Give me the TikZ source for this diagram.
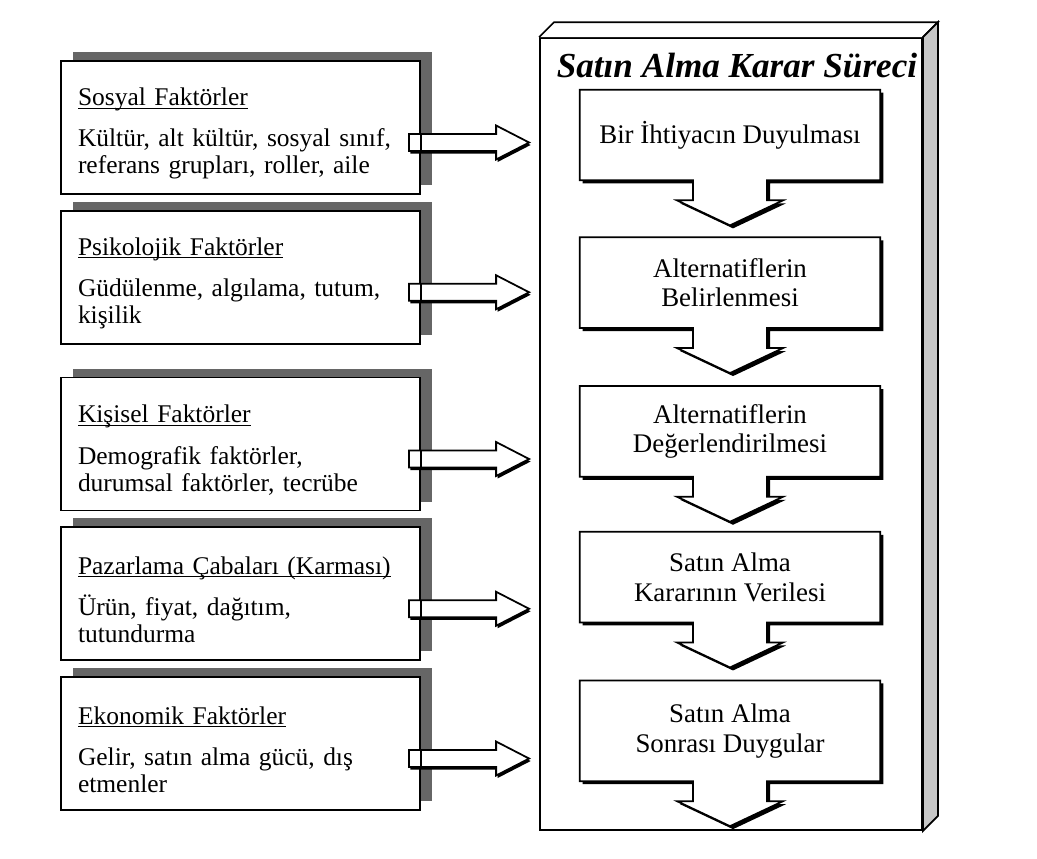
\documentclass[tikz,border=0pt]{standalone}
\usepackage{fontspec}
\setmainfont{Liberation Serif}
\usetikzlibrary{positioning,calc,shadows,backgrounds}
\newcommand{\fhead}[1]{\rule{0pt}{17pt}\underline{\raisebox{0pt}[\height][0pt]{#1}}}

\begin{document}
\begin{tikzpicture}[
    factor/.style={rectangle, draw, line width=1pt, fill=white, minimum width=7.18cm, minimum height=2.66cm, text width=6.5cm, align=left, font=\fontsize{14.5}{15.5}\selectfont, drop shadow={shadow xshift=0.24cm, shadow yshift=0.18cm, fill=black!60, opacity=1}},
    process/.style={rectangle, minimum width=6cm, minimum height=1.8cm, align=center, font=\fontsize{15.3}{17}\selectfont},
    flowshape/.style={draw, line width=1pt, fill=white, drop shadow={shadow xshift=0.06cm, shadow yshift=-0.06cm, fill=black, opacity=1}},
    blockarrow/.style={draw, line width=1pt, fill=white, drop shadow={shadow xshift=0.03cm, shadow yshift=-0.05cm, fill=black, opacity=1}}
]
\useasboundingbox (0,0) rectangle (20.74,-17.16);

% factors on the left
\node[factor] (sosyal) at (4.81,-2.55) {\fhead{Sosyal Faktörler}\\[8pt] Kültür, alt kültür, sosyal sınıf,\\ referans grupları, roller, aile};
\node[factor, below=0.3cm of sosyal] (psiko) {\fhead{Psikolojik Faktörler}\\[8pt] Güdülenme, algılama, tutum,\\ kişilik};
\node[factor, below=0.64cm of psiko] (kisisel) {\fhead{Kişisel Faktörler}\\[8pt] Demografik faktörler,\\ durumsal faktörler, tecrübe};
\node[factor, below=0.3cm of kisisel] (pazar) {\fhead{Pazarlama Çabaları (Karması)}\\[8pt] Ürün, fiyat, dağıtım,\\ tutundurma};
\node[factor, below=0.3cm of pazar] (ekonomik) {\fhead{Ekonomik Faktörler}\\[8pt] Gelir, satın alma gücü, dış\\ etmenler};

% decision process panel
\node[rectangle, draw, line width=1pt, minimum width=7.64cm, minimum height=15.84cm] (panel) at (14.62,-8.68) {};
\draw[line width=1pt, fill=white] (panel.north west) -- ++(0.3,0.3) -- ($(panel.north east)+(0.3,0.3)$) -- (panel.north east);
\draw[line width=1pt, fill=black!22] (panel.north east) -- ++(0.3,0.3) -- ($(panel.south east)+(0.3,0.3)$) -- (panel.south east) -- cycle;
\node[font=\fontsize{20}{22}\selectfont\bfseries\itshape] (title) at ($(panel.north)+(0.12,-0.56)$) {Satın Alma Karar Süreci};

\node[process] (ihtiyac) at (14.6,-2.7) {Bir İhtiyacın Duyulması};
\node[process, below=1.14cm of ihtiyac] (belirleme) {Alternatiflerin\\Belirlenmesi};
\node[process, below=1.16cm of belirleme] (degerleme) {Alternatiflerin\\Değerlendirilmesi};
\node[process, below=1.1cm of degerleme] (karar) {Satın Alma\\Kararının Verilesi};
\node[process, below=1.16cm of karar, minimum height=2cm] (sonrasi) {Satın Alma\\Sonrası Duygular};

\begin{scope}[on background layer]
\foreach \p in {ihtiyac,belirleme,degerleme,karar,sonrasi}
  \draw[flowshape] (\p.north west) -- (\p.north east) -- (\p.south east) -- ($(\p.south)+(0.74,0)$) -- ++(0,-0.4) -- ++(0.32,0) -- ($(\p.south)+(0,-0.9)$) -- ($(\p.south)+(-1.06,-0.4)$) -- ++(0.32,0) -- ++(0,0.4) -- (\p.south west) -- cycle;
\end{scope}

% arrows into the process
\foreach \f in {sosyal,psiko,kisisel,pazar,ekonomik}{
  \coordinate (src) at ($(\f.east)+(-0.24,-0.3)$);
  \coordinate (tip) at ($(src -| panel.west)+(-0.2,0)$);
  \draw[blockarrow] ($(src)+(0,0.17)$) -- ($(tip)+(-0.66,0.17)$) -- ($(tip)+(-0.66,0.34)$) -- (tip) -- ($(tip)+(-0.66,-0.34)$) -- ($(tip)+(-0.66,-0.17)$) -- ($(src)+(0,-0.17)$) -- cycle;
  \draw[line width=1pt] ($(src)+(0.24,0.17)$) -- ($(src)+(0.24,-0.17)$);
}
\end{tikzpicture}
\end{document}
